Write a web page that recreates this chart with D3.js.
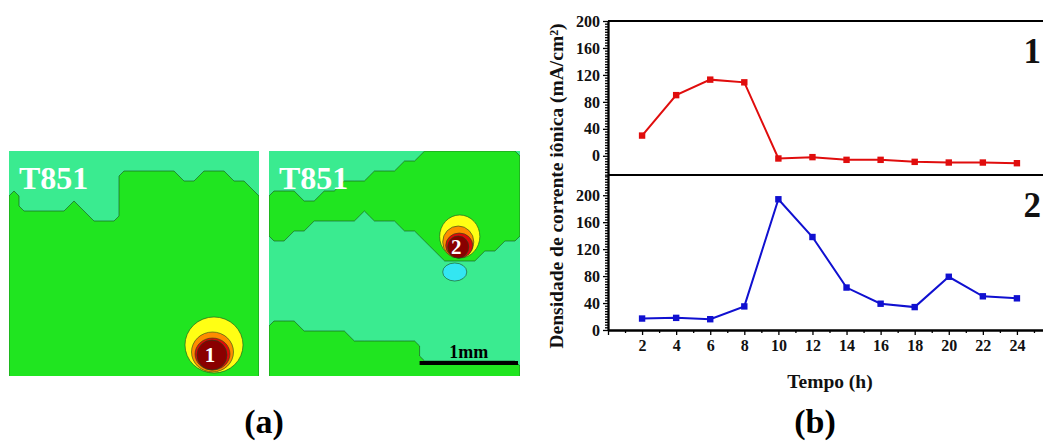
<!DOCTYPE html>
<html>
<head>
<meta charset="utf-8">
<script src="https://d3js.org/d3.v7.min.js"></script>
<style>
  body { margin: 0; background: #fff; }
  svg text { font-family: "Liberation Serif", Tinos, "Times New Roman", Times, serif; font-weight: bold; }
</style>
</head>
<body>
<svg id="fig" width="1043" height="444"></svg>
<script>
// ---- (b) densidade de corrente x tempo ----
var hours = [2, 4, 6, 8, 10, 12, 14, 16, 18, 20, 22, 24]
var spot1 = [30, 90, 113, 109, -4, -2, -6, -6, -9, -10, -10, -11]
var spot2 = [17, 18, 16, 35, 194, 138, 63, 39, 34, 79, 50, 47]
var yMajor = [0, 40, 80, 120, 160, 200]

// ---- (a) mapas SVET, grade de 25 x 23 celulas ('.' nivel baixo, '#' nivel medio) ----
var map1Grid = [
  ".........................",
  ".........................",
  "...........######..###...",
  "...........#############.",
  "#..........##############",
  "#.....#....##############",
  "########...##############",
  "#########################",
  "#########################",
  "#########################",
  "#########################",
  "#########################",
  "#########################",
  "#########################",
  "#########################",
  "#########################",
  "#########################",
  "#########################",
  "#########################",
  "#########################",
  "#########################",
  "#########################",
  "#########################"
]
var map2Grid = [
  "...............##########",
  ".............############",
  "..........###############",
  ".......##################",
  "###..####################",
  "#########################",
  "#########.###############",
  "####.........############",
  "##.............##########",
  "................#######..",
  ".................####....",
  ".........................",
  ".........................",
  ".........................",
  ".........................",
  ".........................",
  ".........................",
  "###......................",
  "########.................",
  "###############..........",
  "###############..........",
  "#########################",
  "#########################"
]
// aneis do ponto ativo (unidades de celula)
var rings1 = [
  { level: "yellow", cx: 20.5, cy: 19.4, rx: 2.9, ry: 2.8 },
  { level: "orange", cx: 20.35, cy: 20.1, rx: 2.1, ry: 2.0 },
  { level: "red", cx: 20.35, cy: 20.3, rx: 1.75, ry: 1.6 },
  { level: "dark", cx: 20.3, cy: 20.4, rx: 1.5, ry: 1.5 }
]
var rings2 = [
  { level: "cyan", cx: 18.5, cy: 12.1, rx: 1.2, ry: 0.9 },
  { level: "yellow", cx: 19.0, cy: 8.55, rx: 2.0, ry: 2.15 },
  { level: "orange", cx: 18.85, cy: 9.1, rx: 1.55, ry: 1.6 },
  { level: "red", cx: 18.95, cy: 9.45, rx: 1.35, ry: 1.25 },
  { level: "dark", cx: 18.85, cy: 9.6, rx: 1.05, ry: 1.1 }
]
var cellsPerMm = 9.8

var serif = "'Liberation Serif', Tinos, 'Times New Roman', Times, serif"
var levelColour = {
  low: "#3aeb90", mid: "#20e520", cyan: "#33e6f2",
  yellow: "#ffff14", orange: "#ff8c00", red: "#dd0a0a", dark: "#8a0000"
}
var contourStroke = "#1d4a1d"

var svg = d3.select("#fig")
var defs = svg.append("defs")

function drawMap(id, grid, rings, x0, x1, label, spotLabel) {
  var cols = grid[0].length, rows = grid.length
  var mx = d3.scaleLinear().domain([0, cols]).range([x0, x1])
  var my = d3.scaleLinear().domain([0, rows]).range([151, 151 + rows * 10])

  defs.append("clipPath").attr("id", id)
    .append("rect").attr("x", x0).attr("y", 151).attr("width", x1 - x0).attr("height", 225)

  var g = svg.append("g").attr("clip-path", "url(#" + id + ")")
  g.append("rect").attr("x", x0).attr("y", 151).attr("width", x1 - x0).attr("height", 225)
    .attr("fill", levelColour.low)

  var values = grid.flatMap(function (r) { return Array.from(r, function (c) { return c === "#" ? 1 : 0 }) })
  var contours = d3.contours().size([cols, rows]).thresholds([0.5])(values)
  var path = d3.geoPath(d3.geoTransform({
    point: function (px, py) { this.stream.point(mx(px), my(py)) }
  }))
  g.selectAll("path.level").data(contours).enter().append("path")
    .attr("class", "level")
    .attr("d", path)
    .attr("fill", levelColour.mid)
    .attr("stroke", contourStroke)
    .attr("stroke-width", 0.6)

  g.selectAll("ellipse").data(rings).enter().append("ellipse")
    .attr("cx", function (d) { return mx(d.cx) })
    .attr("cy", function (d) { return my(d.cy) })
    .attr("rx", function (d) { return mx(d.rx) - mx(0) })
    .attr("ry", function (d) { return my(d.ry) - my(0) })
    .attr("fill", function (d) { return levelColour[d.level] })
    .attr("stroke", contourStroke)
    .attr("stroke-width", 0.6)

  g.append("text").attr("x", x0 + 10).attr("y", 189).attr("font-size", 32)
    .attr("fill", "#fff").text(label)

  var core = rings[rings.length - 1]
  g.append("text").attr("x", mx(core.cx - 0.2)).attr("y", my(core.cy + 0.7))
    .attr("text-anchor", "middle").attr("font-size", 21).attr("fill", "#fff").text(spotLabel)

  return { mx: mx, my: my, g: g }
}

drawMap("clip1", map1Grid, rings1, 9, 259, "T851", "1")
var m2 = drawMap("clip2", map2Grid, rings2, 269, 520, "T851", "2")

// barra de escala 1 mm
m2.g.append("line")
  .attr("x1", m2.mx(15)).attr("x2", m2.mx(15 + cellsPerMm))
  .attr("y1", m2.my(21.2)).attr("y2", m2.my(21.2))
  .attr("stroke", "#000").attr("stroke-width", 4)
m2.g.append("text").attr("x", m2.mx(15 + cellsPerMm / 2)).attr("y", m2.my(20.7))
  .attr("text-anchor", "middle").attr("font-size", 18).attr("fill", "#000").text("1mm")

// ---- (b) ----
var x = d3.scaleLinear().domain([0, 26]).range([608, 1051])
var yTop = d3.scaleLinear().domain([-28.5, 200]).range([175, 21])
var yBot = d3.scaleLinear().domain([0, 230]).range([330, 175])

function styleAxis(sel) {
  sel.attr("font-family", null)
  sel.selectAll("path").attr("stroke", "#000").attr("stroke-width", 1.8)
  sel.selectAll("line").attr("stroke", "#000").attr("stroke-width", 1.3)
  sel.selectAll("text").attr("font-size", 16).attr("fill", "#111")
    .style("font-family", serif).style("font-weight", "bold")
}

function drawPanel(y, minorFrom, minorTo, values, colour) {
  var minor = d3.range(minorFrom, minorTo + 1, 4).filter(function (v) { return yMajor.indexOf(v) < 0 })
  svg.append("g").attr("transform", "translate(" + x(0) + ",0)")
    .call(d3.axisLeft(y).tickValues(minor).tickSize(3).tickSizeOuter(0).tickFormat(""))
    .call(styleAxis)
  svg.append("g").attr("transform", "translate(" + x(0) + ",0)")
    .call(d3.axisLeft(y).tickValues(yMajor).tickSize(5).tickSizeOuter(0).tickPadding(3))
    .call(styleAxis)

  var pts = hours.map(function (h, i) { return [h, values[i]] })
  svg.append("path").datum(pts)
    .attr("d", d3.line().x(function (d) { return x(d[0]) }).y(function (d) { return y(d[1]) }))
    .attr("fill", "none").attr("stroke", colour).attr("stroke-width", 2)
  svg.selectAll(null).data(pts).enter().append("rect")
    .attr("x", function (d) { return x(d[0]) - 3.2 })
    .attr("y", function (d) { return y(d[1]) - 3.2 })
    .attr("width", 6.4).attr("height", 6.4)
    .attr("fill", colour)
}

drawPanel(yTop, -28, 200, spot1, "#e00d0d")
drawPanel(yBot, 0, 228, spot2, "#1010d0")

// molduras
svg.append("line").attr("x1", x(0)).attr("x2", x(26)).attr("y1", yTop(200)).attr("y2", yTop(200))
  .attr("stroke", "#000").attr("stroke-width", 1.8)
svg.append("line").attr("x1", x(0)).attr("x2", x(26)).attr("y1", yTop.range()[0]).attr("y2", yTop.range()[0])
  .attr("stroke", "#000").attr("stroke-width", 1.8)

// eixo x
var xMinor = d3.range(0, 26).filter(function (v) { return v % 2 === 1 })
svg.append("g").attr("transform", "translate(0," + yBot(0) + ")")
  .call(d3.axisBottom(x).tickValues(xMinor).tickSize(3).tickSizeOuter(0).tickFormat(""))
  .call(styleAxis)
svg.append("g").attr("transform", "translate(0," + yBot(0) + ")")
  .call(d3.axisBottom(x).tickValues([0].concat(hours)).tickSize(5).tickSizeOuter(0).tickPadding(5)
    .tickFormat(function (d) { return d === 0 ? "" : d }))
  .call(styleAxis)

svg.append("text").attr("x", 830).attr("y", 388).attr("text-anchor", "middle")
  .attr("font-size", 19.5).attr("fill", "#111").text("Tempo (h)")
svg.append("text").attr("transform", "translate(563,186) rotate(-90)").attr("text-anchor", "middle")
  .attr("font-size", 19.5).attr("fill", "#111").text("Densidade de corrente iônica (mA/cm²)")

svg.append("text").attr("x", 1041).attr("y", 63).attr("text-anchor", "end")
  .attr("font-size", 35).attr("fill", "#111").text("1")
svg.append("text").attr("x", 1041).attr("y", 217).attr("text-anchor", "end")
  .attr("font-size", 35).attr("fill", "#111").text("2")

// legendas (a) (b)
svg.append("text").attr("x", 264).attr("y", 433).attr("text-anchor", "middle")
  .attr("font-size", 34).attr("fill", "#000").text("(a)")
svg.append("text").attr("x", 815).attr("y", 433).attr("text-anchor", "middle")
  .attr("font-size", 34).attr("fill", "#000").text("(b)")
</script>
</body>
</html>
